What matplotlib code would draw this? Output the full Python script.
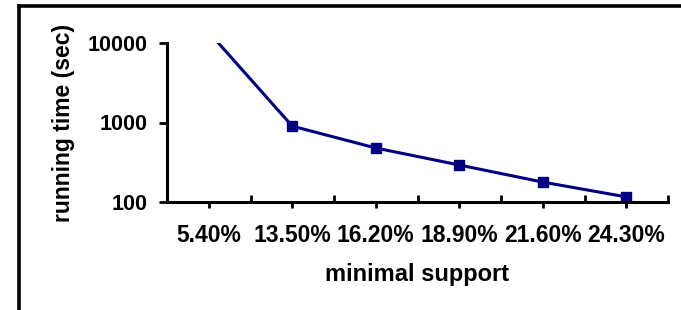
import matplotlib.pyplot as plt
from matplotlib.lines import Line2D
import numpy as np

# data
support = ['5.40%', '13.50%', '16.20%', '18.90%', '21.60%', '24.30%']
running_time = [13700, 900, 478, 292, 178, 116]
y_ticks = [100, 1000, 10000]

plt.rcParams['font.family'] = ['Liberation Sans', 'DejaVu Sans']
plt.rcParams['font.weight'] = 'bold'

fig = plt.figure(figsize=(6.81, 3.10), dpi=100)
ax = fig.add_axes([167 / 681, 1 - 202 / 310, (668 - 167) / 681, (202 - 43) / 310])

x = np.arange(len(support))
ax.plot(x, running_time, color='#000080', linewidth=2.2,
        marker='s', markersize=6.5, markerfacecolor='#000080',
        markeredgecolor='#000080')

ax.set_yscale('log')
ax.set_ylim(100, 10000)
ax.set_yticks(y_ticks)
ax.set_yticklabels([str(v) for v in y_ticks])
ax.minorticks_off()
ax.set_xlim(-0.5, len(support) - 0.5)
ax.set_xticks(x)
ax.set_xticklabels(support)
ax.set_xticks(np.arange(len(support) + 1) - 0.5, minor=True)

ax.spines['top'].set_visible(False)
ax.spines['right'].set_visible(False)
for s in ['left', 'bottom']:
    ax.spines[s].set_linewidth(2.2)

ax.tick_params(axis='y', which='major', direction='out', length=6, width=2,
               labelsize=15.5, pad=8)
ax.tick_params(axis='x', which='major', direction='out', length=4.5, width=2,
               labelsize=16.5, pad=11)
ax.tick_params(axis='x', which='minor', direction='in', length=5, width=2)

ax.set_xlabel('minimal support', fontsize=17, fontweight='bold', labelpad=12)
ax.set_ylabel('running time (sec)', fontsize=16.5, fontweight='bold', labelpad=9)

# frame lines on the left and top of the picture
fig.add_artist(Line2D([18.5 / 681, 18.5 / 681], [0, 1 - 5.5 / 310],
                      transform=fig.transFigure, color='black', linewidth=2.6))
fig.add_artist(Line2D([18.5 / 681, 1], [1 - 5.5 / 310, 1 - 5.5 / 310],
                      transform=fig.transFigure, color='black', linewidth=2.6))

fig.savefig('out.png', dpi=100)
